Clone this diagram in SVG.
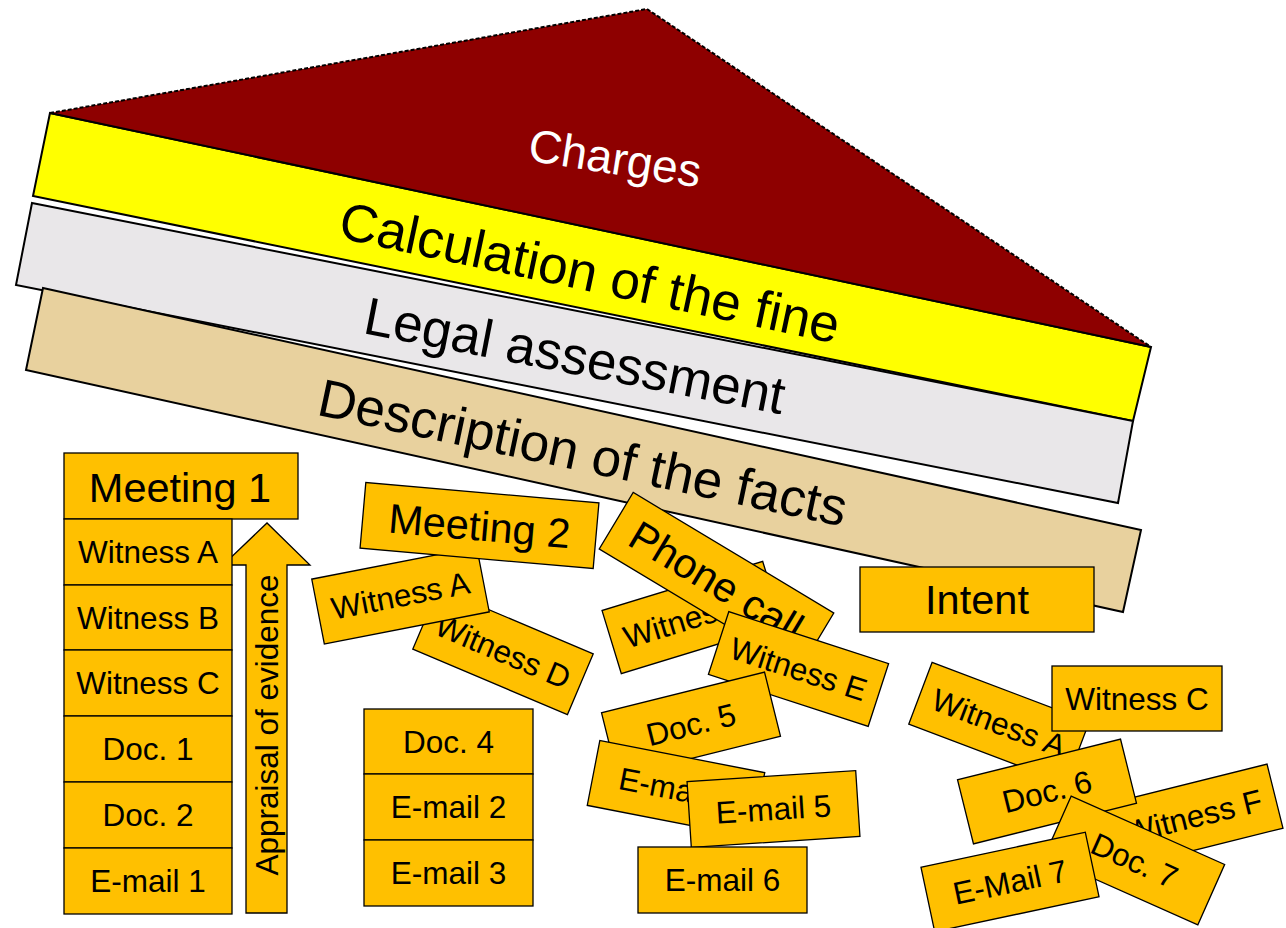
<svg xmlns="http://www.w3.org/2000/svg" width="1286" height="928" viewBox="0 0 1286 928">
<style>
.band{stroke:#000;stroke-width:2;stroke-linejoin:miter}
.box{fill:#FFC000;stroke:#000;stroke-width:1.3}
.t{font-family:"Liberation Sans",Arial,sans-serif;text-anchor:middle;fill:#000}
.s31{font-size:31.5px}
.s41{font-size:41.5px}
.s52{font-size:53px}
</style>
<rect width="1286" height="928" fill="#fff"/>
<g id="band-calculation">
<polygon class="band" fill="#FFFF00" points="50,113 1151,347 1133,421 33,196"/>
<text class="t s52" transform="translate(590,272) rotate(12)" y="19">Calculation of the fine</text>
</g>
<g id="band-legal">
<polygon class="band" fill="#E9E7E9" points="32,203 1133,421 1118,503 16,285"/>
<text class="t s52" transform="translate(575,355) rotate(11)" y="19">Legal assessment</text>
</g>
<g id="band-facts">
<polygon class="band" fill="#E8D19E" points="43,288 1141,530 1123,612 26,370"/>
<text class="t s52" transform="translate(583,452) rotate(12)" y="19">Description of the facts</text>
</g>
<g id="roof">
<polygon fill="#8E0000" points="50,113 647,9 1151,347"/>
<line x1="50" y1="113" x2="1151" y2="347" stroke="#000" stroke-width="2"/>
<polyline points="50,113 647,9 1151,347" fill="none" stroke="#000" stroke-width="2" stroke-dasharray="4 2"/>
<text class="t" font-size="46" style="fill:#fff" transform="translate(615,158) rotate(9)" y="16">Charges</text>
</g>
<g id="appraisal-arrow">
<polygon class="box" stroke-width="2" points="246,913 287,913 287,565 310,565 267,523 223,565 246,565"/>
<text class="t s31" transform="translate(266.5,725) rotate(-90)" y="11">Appraisal of evidence</text>
</g>
<g id="stack-meeting1">
<g id="meeting1"><rect class="box" x="64" y="453" width="234" height="66"/><text class="t s41" x="180" y="502">Meeting 1</text></g>
<g id="m1-witness-a"><rect class="box" x="64" y="519" width="168" height="66"/><text class="t s31" x="148" y="563">Witness A</text></g>
<g id="m1-witness-b"><rect class="box" x="64" y="585" width="168" height="65"/><text class="t s31" x="148" y="629">Witness B</text></g>
<g id="m1-witness-c"><rect class="box" x="64" y="650" width="168" height="66"/><text class="t s31" x="148" y="694">Witness C</text></g>
<g id="m1-doc1"><rect class="box" x="64" y="716" width="168" height="66"/><text class="t s31" x="148" y="760">Doc. 1</text></g>
<g id="m1-doc2"><rect class="box" x="64" y="782" width="168" height="66"/><text class="t s31" x="148" y="826">Doc. 2</text></g>
<g id="m1-email1"><rect class="box" x="64" y="848" width="168" height="66"/><text class="t s31" x="148" y="892">E-mail 1</text></g>
</g>
<g id="stack-meeting2">
<g id="m2-witness-d" transform="translate(503,651.5) rotate(23)"><rect class="box" x="-84" y="-33" width="168" height="66"/><text class="t s31" y="11">Witness D</text></g>
<g id="m2-witness-a" transform="translate(400.5,595.5) rotate(-11)"><rect class="box" x="-84" y="-33" width="168" height="66"/><text class="t s31" y="11">Witness A</text></g>
<g id="meeting2" transform="translate(479.5,525.5) rotate(5)"><rect class="box" x="-117" y="-33" width="234" height="66"/><text class="t s41" y="15">Meeting 2</text></g>
<g id="m2-doc4"><rect class="box" x="364" y="709" width="169" height="65"/><text class="t s31" x="448.5" y="753">Doc. 4</text></g>
<g id="m2-email2"><rect class="box" x="364" y="774" width="169" height="66"/><text class="t s31" x="448.5" y="818">E-mail 2</text></g>
<g id="m2-email3"><rect class="box" x="364" y="840" width="169" height="66"/><text class="t s31" x="448.5" y="884">E-mail 3</text></g>
</g>
<g id="stack-phone">
<g id="pc-witness-b" transform="translate(692,617.5) rotate(-17)"><rect class="box" x="-84" y="-33" width="168" height="66"/><text class="t s31" y="11">Witness B</text></g>
<g id="phone-call" transform="translate(716.5,581) rotate(31)"><rect class="box" x="-117" y="-33" width="234" height="66"/><text class="t s41" y="15">Phone call</text></g>
<g id="pc-witness-e" transform="translate(798.5,669) rotate(18)"><rect class="box" x="-84" y="-33" width="168" height="66"/><text class="t s31" y="11">Witness E</text></g>
<g id="pc-doc5" transform="translate(691,724.5) rotate(-14)"><rect class="box" x="-84" y="-33" width="168" height="66"/><text class="t s31" y="11">Doc. 5</text></g>
<g id="pc-email4" transform="translate(676,789) rotate(11)"><rect class="box" x="-84" y="-33" width="168" height="66"/><text class="t s31" y="11">E-mail 4</text></g>
<g id="pc-email5" transform="translate(773.5,809) rotate(-3.7)"><rect class="box" x="-84.5" y="-33" width="169" height="66"/><text class="t s31" y="11">E-mail 5</text></g>
<g id="pc-email6"><rect class="box" x="638" y="847" width="169" height="66"/><text class="t s31" x="722.5" y="891">E-mail 6</text></g>
</g>
<g id="stack-intent">
<g id="intent"><rect class="box" x="860" y="567" width="234" height="65"/><text class="t s41" x="977" y="614">Intent</text></g>
<g id="in-witness-a" transform="translate(999,723) rotate(20.7)"><rect class="box" x="-84" y="-33" width="168" height="66"/><text class="t s31" y="11">Witness A</text></g>
<g id="in-witness-c"><rect class="box" x="1052" y="666" width="170" height="65"/><text class="t s31" x="1137" y="710">Witness C</text></g>
<g id="in-witness-f" transform="translate(1193.5,816.5) rotate(-14)"><rect class="box" x="-84" y="-33" width="168" height="66"/><text class="t s31" y="11">Witness F</text></g>
<g id="in-doc6" transform="translate(1047,791.5) rotate(-14)"><rect class="box" x="-84" y="-33" width="168" height="66"/><text class="t s31" y="11">Doc. 6</text></g>
<g id="in-doc7" transform="translate(1134.5,860.5) rotate(24)"><rect class="box" x="-84" y="-33" width="168" height="66"/><text class="t s31" y="11">Doc. 7</text></g>
<g id="in-email7" transform="translate(1010,882) rotate(-12)"><rect class="box" x="-84" y="-33" width="168" height="66"/><text class="t s31" y="11">E-Mail 7</text></g>
</g>
<g id="connectors"/>
</svg>
